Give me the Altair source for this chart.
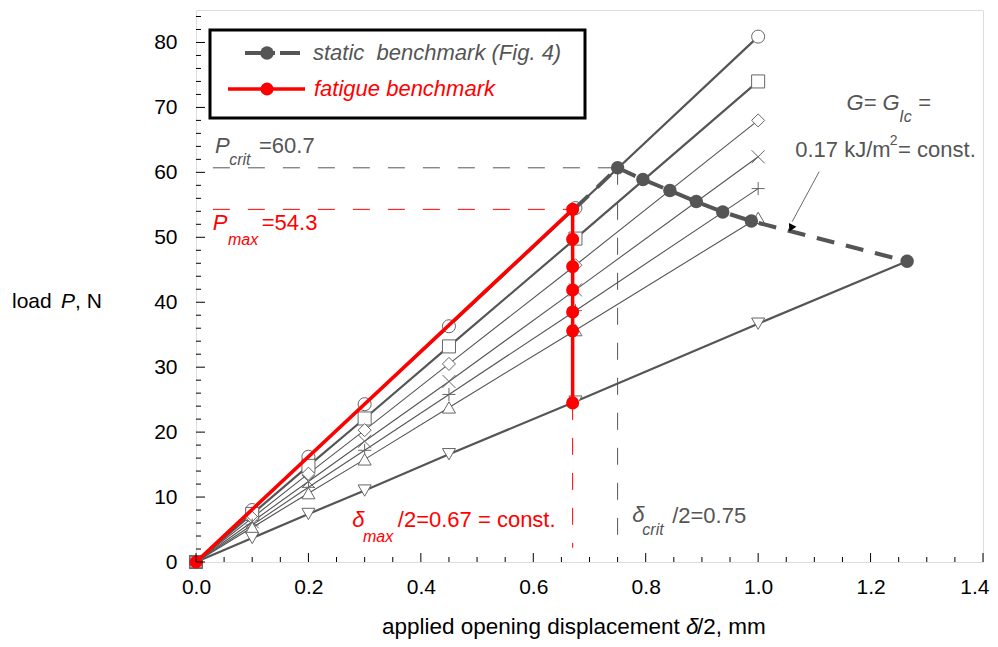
import altair as alt
import pandas as pd

# ---------------- data ----------------
disp = [0.0, 0.1, 0.2, 0.3, 0.45, 0.675, 1.0]
series_names = ["circle", "square", "diamond", "cross", "plus", "triangle-up", "triangle-down"]
load_circle = [0.0, 8.0, 16.2, 24.3, 36.3, 54.5, 80.9]
load_square = [0.0, 7.4, 14.8, 22.1, 33.2, 49.8, 74.0]
load_diamond = [0.0, 6.8, 13.6, 20.3, 30.5, 45.7, 68.0]
load_cross = [0.0, 6.2, 12.4, 18.6, 27.8, 41.9, 62.4]
load_plus = [0.0, 5.7, 11.5, 17.2, 25.8, 38.7, 57.5]
load_triup = [0.0, 5.3, 10.6, 15.8, 23.8, 35.7, 53.0]
load_tridown = [0.0, 3.7, 7.4, 11.0, 16.6, 24.7, 36.7]
tridown_tail_disp = [1.265]
tridown_tail_load = [46.3]
thick_series = ["circle", "square", "triangle-down"]

static_disp = [0.75, 0.795, 0.843, 0.89, 0.937, 0.988, 1.265]
static_load = [60.7, 58.9, 57.2, 55.5, 53.9, 52.5, 46.3]
static_start_disp = [0.675]
static_start_load = [54.5]

fatigue_disp = [0.0, 0.67, 0.67, 0.67, 0.67, 0.67, 0.67, 0.67]
fatigue_load = [0.0, 54.3, 49.7, 45.5, 41.9, 38.5, 35.6, 24.5]

p_crit, d_crit = 60.7, 0.75
p_max, d_max = 54.3, 0.67

x_major_ticks = [0.0, 0.2, 0.4, 0.6, 0.8, 1.0, 1.2, 1.4]
x_minor_ticks = [0.05, 0.1, 0.15, 0.25, 0.3, 0.35, 0.45, 0.5, 0.55, 0.65, 0.7, 0.75,
                 0.85, 0.9, 0.95, 1.05, 1.1, 1.15, 1.25, 1.3, 1.35]
y_major_ticks = [0, 10, 20, 30, 40, 50, 60, 70, 80]
y_minor_ticks = [2, 4, 6, 8, 12, 14, 16, 18, 22, 24, 26, 28, 32, 34, 36, 38, 42, 44, 46, 48,
                 52, 54, 56, 58, 62, 64, 66, 68, 72, 74, 76, 78, 82, 84]

GRAY = "#555555"
RED = "#ff0000"
annotations = [
    ("P", 0.034, 63.0, GRAY, True, 22),
    ("crit", 0.059, 61.2, GRAY, True, 16),
    ("=60.7", 0.112, 63.0, GRAY, False, 22),
    ("P", 0.030, 51.2, RED, True, 22),
    ("max", 0.057, 48.8, RED, True, 16),
    ("=54.3", 0.117, 51.2, RED, False, 22),
    ("δ", 0.278, 5.4, RED, True, 22),
    ("max", 0.297, 3.1, RED, True, 16),
    ("/2=0.67 = const.", 0.359, 5.4, RED, False, 22),
    ("δ", 0.776, 6.2, GRAY, True, 22),
    ("crit", 0.794, 4.2, GRAY, True, 16),
    ("/2=0.75", 0.847, 6.0, GRAY, False, 22),
    ("G= G", 1.157, 69.6, GRAY, True, 22),
    ("Ic", 1.251, 67.8, GRAY, True, 16),
    ("=", 1.285, 69.6, GRAY, False, 22),
    ("0.17 kJ/m", 1.066, 62.4, GRAY, False, 22),
    ("2", 1.234, 64.2, GRAY, False, 14),
    ("= const.", 1.249, 62.4, GRAY, False, 22),
]
leader_disp = [1.1085, 1.0605]
leader_load = [60.1, 52.4]
arrow_disp = [1.0585]
arrow_load = [51.4]

# ---------------- frames ----------------
all_loads = [load_circle, load_square, load_diamond, load_cross, load_plus, load_triup, load_tridown]
rows = []
for name, loads in zip(series_names, all_loads):
    for i, (d, p) in enumerate(zip(disp, loads)):
        rows.append({"series": name, "d": d, "P": p, "o": i})
markers_df = pd.DataFrame(rows)
line_rows = list(rows)
for d, p in zip(tridown_tail_disp, tridown_tail_load):
    line_rows.append({"series": "triangle-down", "d": d, "P": p, "o": 99})
lines_df = pd.DataFrame(line_rows)
thick_df = lines_df[lines_df.series.isin(thick_series)]
thin_df = lines_df[~lines_df.series.isin(thick_series)]

static_line_df = pd.DataFrame({"d": static_start_disp + static_disp,
                               "P": static_start_load + static_load})
static_line_df["o"] = range(len(static_line_df))
static_pts_df = pd.DataFrame({"d": static_disp, "P": static_load})
fat_df = pd.DataFrame({"d": fatigue_disp, "P": fatigue_load, "o": range(len(fatigue_disp))})

ann_df = pd.DataFrame(annotations, columns=["text", "d", "P", "color", "italic", "fs"])

W, H = 787, 552
FONT = "Liberation Sans"

xs = alt.Scale(domain=[0, 1.4], nice=False, zero=False)
ys = alt.Scale(domain=[0, 85], nice=False, zero=False)
xaxis = alt.Axis(values=x_major_ticks, format=".1f", ticks=False, domain=False, grid=False,
                 labelFontSize=21, labelFont=FONT, labelColor="black", labelPadding=14,
                 labelFlush=False, labelOverlap=False,
                 labelAlign={"condition": {"test": "datum.value >= 1.39", "value": "right"},
                             "value": "center"},
                 labelOffset={"condition": {"test": "datum.value >= 1.39", "value": 6},
                              "value": 0})
yaxis = alt.Axis(values=y_major_ticks, format="d", ticks=False, domain=False, grid=False,
                 labelFontSize=21, labelFont=FONT, labelColor="black", labelPadding=19,
                 labelFlush=False, labelOverlap=False)
X = alt.X("d:Q", scale=xs, axis=xaxis, title=None)
Y = alt.Y("P:Q", scale=ys, axis=yaxis, title=None)
O = alt.Order("o:Q")

shape_scale = alt.Scale(domain=series_names,
                        range=["circle", "square", "diamond", "M-1,-1L1,1M-1,1L1,-1",
                               "M-1,0L1,0M0,-1L0,1", "triangle-up", "triangle-down"])

layers = []

def seg(ds, ps):
    return pd.DataFrame({"d": ds, "P": ps, "o": range(len(ds))})

# reference dashed lines
layers.append(alt.Chart(seg([0.03, d_crit], [p_crit, p_crit])).mark_line(
    color=GRAY, strokeWidth=1, strokeDash=[17, 18]).encode(x=X, y=Y, order=O))
layers.append(alt.Chart(seg([d_crit, d_crit], [p_crit, 2.2])).mark_line(
    color=GRAY, strokeWidth=1, strokeDash=[17, 18]).encode(x=X, y=Y, order=O))
layers.append(alt.Chart(seg([0.03, d_max], [p_max, p_max])).mark_line(
    color=RED, strokeWidth=1, strokeDash=[17, 18]).encode(x=X, y=Y, order=O))
layers.append(alt.Chart(seg([d_max, d_max], [fatigue_load[-1], 2.2])).mark_line(
    color=RED, strokeWidth=1, strokeDash=[17, 18]).encode(x=X, y=Y, order=O))

# series lines
layers.append(alt.Chart(thin_df).mark_line(color=GRAY, strokeWidth=1.1).encode(
    x=X, y=Y, detail="series:N", order=O))
layers.append(alt.Chart(thick_df).mark_line(color=GRAY, strokeWidth=2.2).encode(
    x=X, y=Y, detail="series:N", order=O))
# series markers
layers.append(alt.Chart(markers_df).mark_point(
    filled=True, fill="white", stroke="#666666", strokeWidth=1, size=170, opacity=1).encode(
    x=X, y=Y, shape=alt.Shape("series:N", scale=shape_scale, legend=None)))

# static benchmark
layers.append(alt.Chart(static_line_df).mark_line(
    color=GRAY, strokeWidth=4, strokeDash=[18, 12]).encode(x=X, y=Y, order=O))
layers.append(alt.Chart(static_pts_df).mark_point(
    shape="circle", filled=True, color=GRAY, size=180, opacity=1).encode(x=X, y=Y))

# fatigue benchmark
layers.append(alt.Chart(fat_df).mark_line(color=RED, strokeWidth=3.5).encode(x=X, y=Y, order=O))
layers.append(alt.Chart(fat_df).mark_point(
    shape="circle", filled=True, color=RED, size=170, opacity=1).encode(x=X, y=Y))

# leader + arrow
layers.append(alt.Chart(seg(leader_disp, leader_load)).mark_line(
    color="#444444", strokeWidth=0.8).encode(x=X, y=Y, order=O))
layers.append(alt.Chart(pd.DataFrame({"d": arrow_disp, "P": arrow_load})).mark_point(
    shape="triangle-down", filled=True, color="black", size=70, angle=27, opacity=1).encode(x=X, y=Y))

# annotations
for italic in (True, False):
    sub = ann_df[ann_df.italic == italic]
    layers.append(alt.Chart(sub).mark_text(
        align="left", baseline="alphabetic", font=FONT,
        fontStyle="italic" if italic else "normal").encode(
        x=X, y=Y, text="text:N", color=alt.Color("color:N", scale=None),
        size=alt.Size("fs:Q", scale=None)))

# ticks (inward)
layers.append(alt.Chart(pd.DataFrame({"d": x_major_ticks})).mark_rule(color="black", strokeWidth=1).encode(
    x=X, y=alt.value(H), y2=alt.value(H - 9)))
layers.append(alt.Chart(pd.DataFrame({"d": x_minor_ticks})).mark_rule(color="black", strokeWidth=1).encode(
    x=X, y=alt.value(H), y2=alt.value(H - 5)))
layers.append(alt.Chart(pd.DataFrame({"P": y_major_ticks})).mark_rule(color="black", strokeWidth=1).encode(
    y=Y, x=alt.value(0), x2=alt.value(9)))
layers.append(alt.Chart(pd.DataFrame({"P": y_minor_ticks})).mark_rule(color="black", strokeWidth=1).encode(
    y=Y, x=alt.value(0), x2=alt.value(5)))

# legend (custom box)
one = pd.DataFrame({"k": [0]})
layers.append(alt.Chart(one).mark_rect(fill="white", stroke="black", strokeWidth=3).encode(
    x=alt.value(14), x2=alt.value(389), y=alt.value(20), y2=alt.value(108)))
layers.append(alt.Chart(one).mark_rule(color=GRAY, strokeWidth=4).encode(
    x=alt.value(49), x2=alt.value(79), y=alt.value(43)))
layers.append(alt.Chart(one).mark_rule(color=GRAY, strokeWidth=4).encode(
    x=alt.value(84), x2=alt.value(104), y=alt.value(43)))
layers.append(alt.Chart(one).mark_point(shape="circle", filled=True, color=GRAY, size=180, opacity=1).encode(
    x=alt.value(71), y=alt.value(43)))
layers.append(alt.Chart(one).mark_rule(color=RED, strokeWidth=3.5).encode(
    x=alt.value(32), x2=alt.value(109), y=alt.value(79)))
layers.append(alt.Chart(one).mark_point(shape="circle", filled=True, color=RED, size=170, opacity=1).encode(
    x=alt.value(71), y=alt.value(79)))
layers.append(alt.Chart(one).mark_text(align="left", baseline="middle", font=FONT, fontSize=22,
                                       fontStyle="italic", color=GRAY).encode(
    x=alt.value(117), y=alt.value(43), text=alt.value("static\u00a0 benchmark (Fig. 4)")))
layers.append(alt.Chart(one).mark_text(align="left", baseline="middle", font=FONT, fontSize=22,
                                       fontStyle="italic", color=RED).encode(
    x=alt.value(118), y=alt.value(79), text=alt.value("fatigue benchmark")))

# axis titles
def ptxt(txt, x, y, italic=False, size=21):
    return alt.Chart(one).mark_text(align="left", baseline="alphabetic", font=FONT, fontSize=size,
                                    fontStyle="italic" if italic else "normal", color="black").encode(
        x=alt.value(x), y=alt.value(y), text=alt.value(txt))

layers.append(ptxt("load", -184, 298))
layers.append(ptxt("P", -135, 298, italic=True))
layers.append(ptxt(", N", -121, 298))
layers.append(ptxt("applied opening displacement", 186, 624, size=22.5))
layers.append(ptxt("δ", 490, 624, italic=True, size=22.5))
layers.append(ptxt("/2, mm", 501, 624, size=22.5))

chart = alt.layer(*layers).properties(
    width=W, height=H,
    autosize=alt.AutoSizeParams(type="none"),
    padding={"left": 188, "top": 2, "right": 7, "bottom": 77},
).configure_view(stroke="black", strokeWidth=1.5).configure(font=FONT)

chart.save("out.html", embed_options={"renderer": "svg", "actions": False})
